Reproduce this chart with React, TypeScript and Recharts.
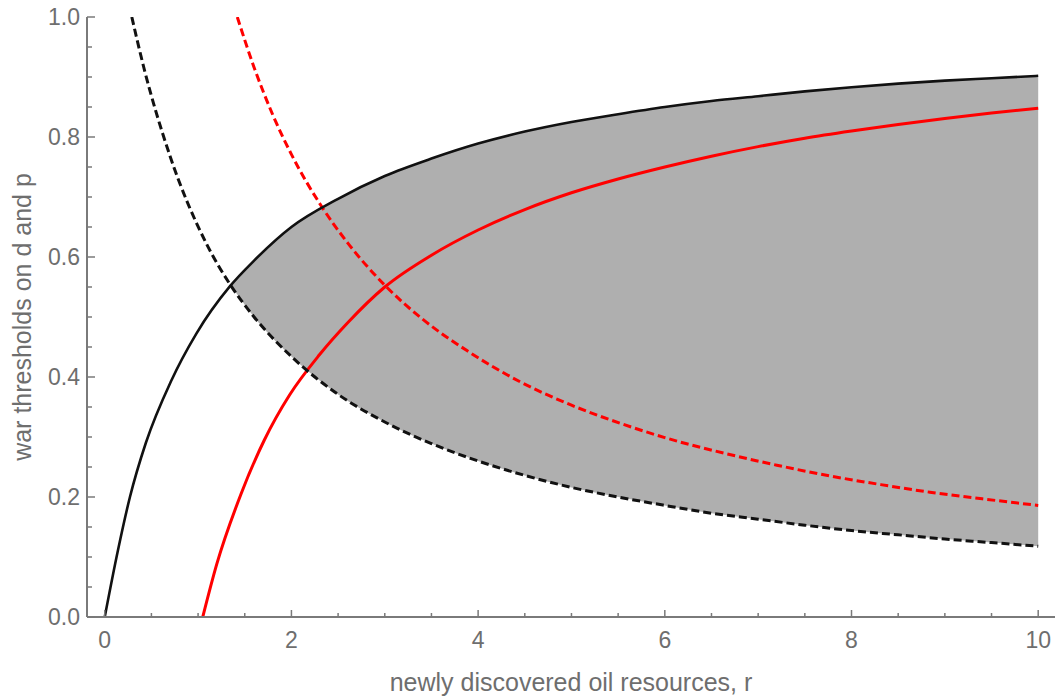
import { ComposedChart, Area, Line, XAxis, YAxis } from 'recharts'

// black solid threshold, left part (before the curves cross)
const blackSolidLeadR = [0, 0.14, 0.27, 0.44, 0.71, 0.98]
const blackSolidLeadV = [0, 0.11, 0.2, 0.29, 0.393, 0.472]

// black dashed threshold, left part
const blackDashedLeadR = [0.29, 0.42, 0.7, 1.09]
const blackDashedLeadV = [1.0, 0.915, 0.768, 0.622]

// shaded war region between the two black curves
const gapR = [1.34, 1.6, 2, 2.5, 3, 3.5, 4, 4.5, 5, 5.5, 6, 6.5, 7, 7.5, 8, 8.5, 9, 9.5, 10]
const gapUpper = [0.551, 0.594, 0.65, 0.697, 0.735, 0.764, 0.789, 0.809, 0.825, 0.838, 0.85, 0.86, 0.868, 0.876, 0.883, 0.889, 0.894, 0.898, 0.902]
const gapLower = [0.555, 0.5, 0.434, 0.371, 0.325, 0.289, 0.26, 0.236, 0.216, 0.2, 0.186, 0.173, 0.163, 0.153, 0.144, 0.137, 0.13, 0.124, 0.118]

// red curves
const redSolidR = [1.05, 1.2, 1.46, 1.71, 1.98, 2.3, 2.6, 3, 3.5, 4, 4.5, 5, 5.5, 6, 6.5, 7, 7.5, 8, 8.5, 9, 9.5, 10]
const redSolidV = [0, 0.088, 0.205, 0.295, 0.37, 0.437, 0.49, 0.55, 0.603, 0.645, 0.679, 0.707, 0.73, 0.75, 0.768, 0.784, 0.798, 0.81, 0.821, 0.831, 0.84, 0.848]
const redDashedR = [1.42, 1.6, 1.8, 2, 2.32, 2.6, 3, 3.4, 3.88, 4.45, 5, 5.52, 6, 6.77, 7.2, 7.77, 8.3, 8.84, 9.4, 10]
const redDashedV = [1.0, 0.916, 0.837, 0.771, 0.685, 0.624, 0.553, 0.497, 0.444, 0.392, 0.353, 0.323, 0.299, 0.268, 0.253, 0.235, 0.221, 0.208, 0.197, 0.186]

// ticks (majors get labels)
const xTicks = [0, 0.5, 1, 1.5, 2, 2.5, 3, 3.5, 4, 4.5, 5, 5.5, 6, 6.5, 7, 7.5, 8, 8.5, 9, 9.5, 10]
const xLabels = [0, 2, 4, 6, 8, 10]
const yTicks = [0, 0.05, 0.1, 0.15, 0.2, 0.25, 0.3, 0.35, 0.4, 0.45, 0.5, 0.55, 0.6, 0.65, 0.7, 0.75, 0.8, 0.85, 0.9, 0.95, 1.0]
const yLabels = [0, 0.2, 0.4, 0.6, 0.8, 1.0]

const pts = (rs: number[], vs: number[]) => rs.map((r, i) => ({ r, v: vs[i] }))

const gapRows = gapR.map((r, i) => ({ r, band: [gapLower[i], gapUpper[i]] }))
const blackSolid = [...pts(blackSolidLeadR, blackSolidLeadV), ...pts(gapR, gapUpper)]
const blackDashed = [...pts(blackDashedLeadR, blackDashedLeadV), ...pts(gapR, gapLower)]
const redSolid = pts(redSolidR, redSolidV)
const redDashed = pts(redDashedR, redDashedV)

const axisColor = '#7a7a7a'
const textColor = '#6e6e6e'
const font = '"Liberation Sans", Arial, sans-serif'

const XTick = ({ x, y, payload }: any) => {
  const major = xLabels.includes(payload.value)
  return (
    <g>
      <line x1={x} x2={x} y1={y} y2={y - (major ? 7 : 4)} stroke={axisColor} strokeWidth={1.5} />
      {major && (
        <text x={x} y={y + 31} textAnchor="middle" fill={textColor} fontSize={23} fontFamily={font}>
          {payload.value}
        </text>
      )}
    </g>
  )
}

const YTick = ({ x, y, payload }: any) => {
  const major = yLabels.includes(payload.value)
  return (
    <g>
      <line x1={x} x2={x + (major ? 8 : 5)} y1={y} y2={y} stroke={axisColor} strokeWidth={1.5} />
      {major && (
        <text x={x - 7} y={y + 8} textAnchor="end" fill={textColor} fontSize={23} fontFamily={font}>
          {payload.value.toFixed(1)}
        </text>
      )}
    </g>
  )
}

export default function App() {
  return (
    <div style={{ position: 'absolute', left: 0, top: 0, background: '#fff' }}>
      <ComposedChart width={1061} height={698} data={gapRows} margin={{ top: 17, right: 6, bottom: 6, left: 7 }}>
        <XAxis
          dataKey="r"
          type="number"
          domain={[-0.19, 10.18]}
          allowDataOverflow
          ticks={xTicks}
          interval={0}
          tick={<XTick />}
          tickLine={false}
          tickSize={0}
          tickMargin={0}
          height={75}
          axisLine={{ stroke: axisColor, strokeWidth: 2 }}
          label={{
            value: 'newly discovered oil resources, r',
            position: 'insideBottom',
            offset: 1,
            fill: textColor,
            fontSize: 25,
            fontFamily: font,
          }}
        />
        <YAxis
          type="number"
          domain={[0, 1]}
          allowDataOverflow
          ticks={yTicks}
          interval={0}
          tick={<YTick />}
          tickLine={false}
          tickSize={0}
          tickMargin={0}
          width={80}
          axisLine={{ stroke: axisColor, strokeWidth: 2 }}
          label={{
            value: 'war thresholds on d and p',
            angle: -90,
            position: 'insideLeft',
            offset: 15,
            fill: textColor,
            fontSize: 25,
            fontFamily: font,
            style: { textAnchor: 'middle' },
          }}
        />
        <Area type="monotone" dataKey="band" fill="#afafaf" fillOpacity={1} stroke="none" isAnimationActive={false} dot={false} activeDot={false} />
        <Line data={redSolid} type="monotone" dataKey="v" stroke="#ff0000" strokeWidth={3} dot={false} activeDot={false} isAnimationActive={false} />
        <Line data={redDashed} type="monotone" dataKey="v" stroke="#ff0000" strokeWidth={3} strokeDasharray="8 4" dot={false} activeDot={false} isAnimationActive={false} />
        <Line data={blackSolid} type="monotone" dataKey="v" stroke="#111" strokeWidth={2.6} dot={false} activeDot={false} isAnimationActive={false} />
        <Line data={blackDashed} type="monotone" dataKey="v" stroke="#111" strokeWidth={3} strokeDasharray="8 4" dot={false} activeDot={false} isAnimationActive={false} />
      </ComposedChart>
    </div>
  )
}
